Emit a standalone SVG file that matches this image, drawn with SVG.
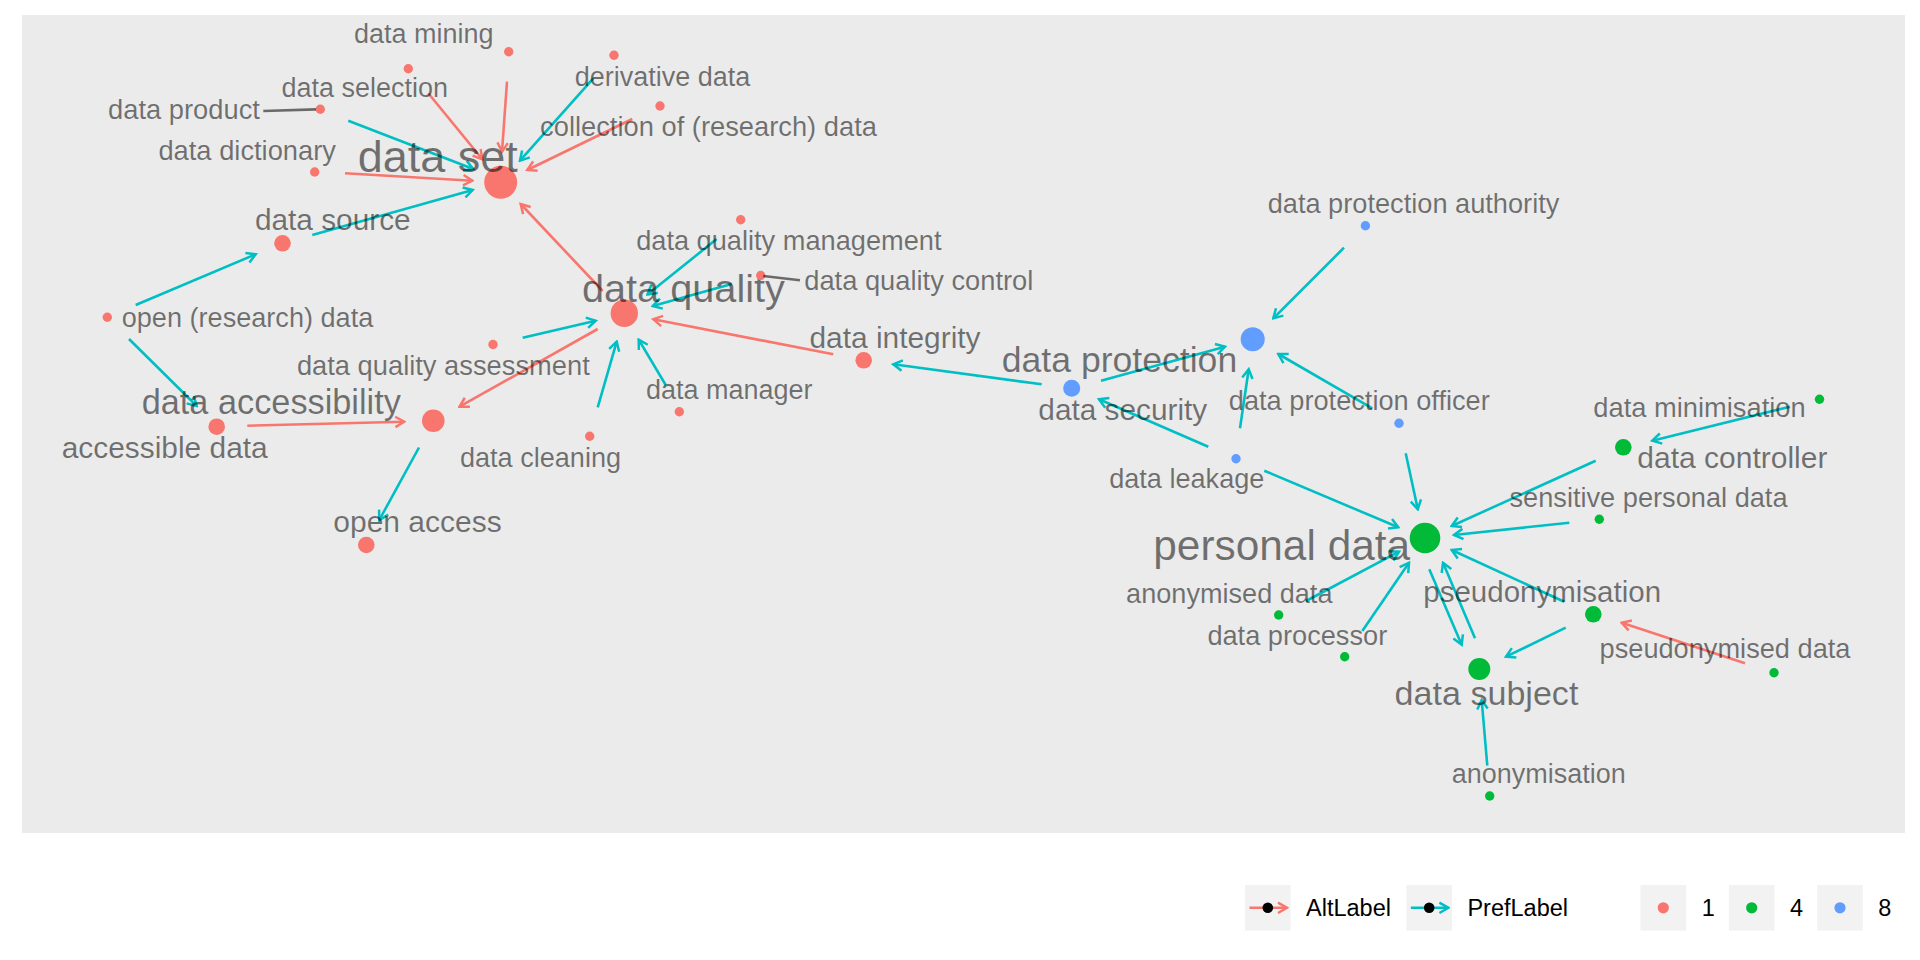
<svg xmlns="http://www.w3.org/2000/svg" width="1920" height="960" viewBox="0 0 1920 960">
<defs>
<marker id="aR" markerUnits="userSpaceOnUse" orient="auto" viewBox="-12 -8 14 16" markerWidth="14" markerHeight="16" refX="0" refY="0"><path d="M-9,-5.2 L0,0 L-9,5.2" fill="none" stroke="#F8766D" stroke-width="2.5"/></marker>
<marker id="aT" markerUnits="userSpaceOnUse" orient="auto" viewBox="-12 -8 14 16" markerWidth="14" markerHeight="16" refX="0" refY="0"><path d="M-9,-5.2 L0,0 L-9,5.2" fill="none" stroke="#00BFC4" stroke-width="2.5"/></marker>
</defs>
<style>
.lbl{font-family:"Liberation Sans",Arial,Helvetica,sans-serif;fill:#000;fill-opacity:0.53;text-anchor:middle}
.alt{stroke:#F8766D;stroke-width:2.6;fill:none;marker-end:url(#aR)}
.pref{stroke:#00BFC4;stroke-width:2.6;fill:none;marker-end:url(#aT)}
.seg{stroke:#000;stroke-opacity:0.55;stroke-width:2.6;fill:none}
.c1{fill:#F8766D}.c4{fill:#00BA38}.c8{fill:#619CFF}
.key{fill:#F2F2F2}
.lg{font-family:"Liberation Sans",Arial,Helvetica,sans-serif;font-size:23.5px;fill:#000}
</style>
<rect x="0" y="0" width="1920" height="960" fill="#FFFFFF"/>
<rect x="22" y="15" width="1883" height="818" fill="#EBEBEB"/>
<g id="edges">
<line class="alt" x1="507" y1="81.7" x2="502" y2="151.7"/>
<line class="alt" x1="428.3" y1="93.3" x2="482.3" y2="159.3"/>
<line class="alt" x1="632.3" y1="119" x2="527.3" y2="170"/>
<line class="alt" x1="345" y1="173.3" x2="472.3" y2="180.7"/>
<line class="alt" x1="602.7" y1="291" x2="520.7" y2="204"/>
<line class="alt" x1="833.3" y1="354.3" x2="653.3" y2="319.3"/>
<line class="alt" x1="597.7" y1="329" x2="459.5" y2="406.7"/>
<line class="alt" x1="247.3" y1="425.7" x2="404.3" y2="421.7"/>
<line class="alt" x1="1745" y1="663.3" x2="1621.7" y2="622.7"/>
<line class="pref" x1="348.3" y1="120.7" x2="473.3" y2="169"/>
<line class="pref" x1="593.3" y1="78.3" x2="520" y2="160.7"/>
<line class="pref" x1="312.3" y1="235" x2="472.7" y2="190"/>
<line class="pref" x1="135.7" y1="305" x2="255.7" y2="254.3"/>
<line class="pref" x1="129" y1="339" x2="196.7" y2="406"/>
<line class="pref" x1="419" y1="447.5" x2="379.3" y2="520"/>
<line class="pref" x1="716.7" y1="239" x2="647.5" y2="294.5"/>
<line class="pref" x1="731.7" y1="284" x2="652.7" y2="306"/>
<line class="pref" x1="522.7" y1="337.7" x2="595.7" y2="320.7"/>
<line class="pref" x1="597.7" y1="407.3" x2="616.7" y2="341.7"/>
<line class="pref" x1="665.7" y1="385" x2="638.7" y2="339.7"/>
<line class="pref" x1="1041.7" y1="384.3" x2="893.3" y2="364.3"/>
<line class="pref" x1="1101" y1="380.7" x2="1225" y2="346.7"/>
<line class="pref" x1="1240" y1="428.3" x2="1248.7" y2="369.3"/>
<line class="pref" x1="1208.3" y1="446.7" x2="1099" y2="399.3"/>
<line class="pref" x1="1372.3" y1="408.3" x2="1278.3" y2="354"/>
<line class="pref" x1="1344" y1="247.7" x2="1273.3" y2="318.3"/>
<line class="pref" x1="1264.3" y1="470.7" x2="1398.3" y2="527.3"/>
<line class="pref" x1="1405.7" y1="453.3" x2="1417.8" y2="509.3"/>
<line class="pref" x1="1306" y1="601" x2="1399" y2="551.7"/>
<line class="pref" x1="1362.3" y1="631" x2="1409" y2="562.7"/>
<line class="pref" x1="1429.3" y1="569.3" x2="1461.7" y2="644.7"/>
<line class="pref" x1="1475" y1="638.3" x2="1443" y2="562.7"/>
<line class="pref" x1="1595.7" y1="460.7" x2="1451.7" y2="526"/>
<line class="pref" x1="1569.3" y1="522.7" x2="1454" y2="535"/>
<line class="pref" x1="1564.3" y1="601.7" x2="1451.7" y2="550"/>
<line class="pref" x1="1565.7" y1="627.7" x2="1506" y2="656.7"/>
<line class="pref" x1="1487.3" y1="765.7" x2="1481.7" y2="700"/>
<line class="pref" x1="1790" y1="406.7" x2="1652.3" y2="440.7"/>
</g>
<g id="n-data-mining"><circle class="c1" cx="508.7" cy="51.7" r="4.7"/><text class="lbl" x="423.7" y="43.3" font-size="27">data mining</text></g>
<g id="n-data-selection"><circle class="c1" cx="408.3" cy="68.7" r="4.7"/><text class="lbl" x="364.7" y="97" font-size="27">data selection</text></g>
<g id="n-data-product"><circle class="c1" cx="320.3" cy="109.3" r="4.7"/><line class="seg" x1="263.3" y1="111" x2="316" y2="109.4"/><text class="lbl" x="184" y="119" font-size="27.3">data product</text></g>
<g id="n-derivative-data"><circle class="c1" cx="614" cy="55.3" r="4.7"/><text class="lbl" x="662.5" y="86" font-size="27">derivative data</text></g>
<g id="n-collection"><circle class="c1" cx="660" cy="106" r="4.7"/><text class="lbl" x="708.5" y="135.5" font-size="27.3">collection of (research) data</text></g>
<g id="n-data-dictionary"><circle class="c1" cx="314.7" cy="172" r="4.7"/><text class="lbl" x="247.2" y="160" font-size="27.3">data dictionary</text></g>
<g id="n-data-set"><circle class="c1" cx="500.7" cy="182.3" r="16.5"/><text class="lbl" x="437.8" y="171.7" font-size="45">data set</text></g>
<g id="n-data-source"><circle class="c1" cx="282.5" cy="243.3" r="8.3"/><text class="lbl" x="332.8" y="230" font-size="29.8">data source</text></g>
<g id="n-open-research-data"><circle class="c1" cx="107.3" cy="317.3" r="4.7"/><text class="lbl" x="247.5" y="326.7" font-size="27.1">open (research) data</text></g>
<g id="n-data-quality"><circle class="c1" cx="624.3" cy="313.3" r="13.7"/><text class="lbl" x="683.4" y="301.7" font-size="39.7">data quality</text></g>
<g id="n-data-quality-management"><circle class="c1" cx="740.7" cy="219.7" r="4.7"/><text class="lbl" x="788.8" y="250" font-size="27.2">data quality management</text></g>
<g id="n-data-quality-control"><circle class="c1" cx="760.7" cy="275.5" r="4.7"/><line class="seg" x1="763.3" y1="276" x2="800" y2="280.3"/><text class="lbl" x="918.8" y="290" font-size="27.3">data quality control</text></g>
<g id="n-data-quality-assessment"><circle class="c1" cx="493" cy="344.5" r="4.7"/><text class="lbl" x="443.3" y="375" font-size="27.3">data quality assessment</text></g>
<g id="n-data-integrity"><circle class="c1" cx="863.7" cy="360.3" r="8.3"/><text class="lbl" x="895" y="348.3" font-size="29.9">data integrity</text></g>
<g id="n-data-manager"><circle class="c1" cx="679.3" cy="411.7" r="4.7"/><text class="lbl" x="729.3" y="399" font-size="27">data manager</text></g>
<g id="n-data-cleaning"><circle class="c1" cx="589.7" cy="436.3" r="4.7"/><text class="lbl" x="540.5" y="466.7" font-size="27.1">data cleaning</text></g>
<g id="n-data-accessibility"><circle class="c1" cx="433.3" cy="420.7" r="11.3"/><text class="lbl" x="271.3" y="414.3" font-size="34.3">data accessibility</text></g>
<g id="n-accessible-data"><circle class="c1" cx="216.7" cy="426.7" r="8.3"/><text class="lbl" x="164.7" y="458.3" font-size="29.9">accessible data</text></g>
<g id="n-open-access"><circle class="c1" cx="366.3" cy="545" r="8.3"/><text class="lbl" x="417.5" y="531.7" font-size="30">open access</text></g>
<g id="n-data-protection"><circle class="c8" cx="1252.7" cy="339.3" r="12"/><text class="lbl" x="1119.5" y="371.7" font-size="35.6">data protection</text></g>
<g id="n-data-protection-authority"><circle class="c8" cx="1365.4" cy="225.7" r="4.7"/><text class="lbl" x="1413.5" y="213.3" font-size="27.2">data protection authority</text></g>
<g id="n-data-security"><circle class="c8" cx="1071.7" cy="388.3" r="8.5"/><text class="lbl" x="1122.8" y="420" font-size="29.8">data security</text></g>
<g id="n-data-leakage"><circle class="c8" cx="1236" cy="458.7" r="4.7"/><text class="lbl" x="1186.8" y="488.3" font-size="27.1">data leakage</text></g>
<g id="n-data-protection-officer"><circle class="c8" cx="1399" cy="423.3" r="4.7"/><text class="lbl" x="1359.3" y="410" font-size="27.2">data protection officer</text></g>
<g id="n-personal-data"><circle class="c4" cx="1425" cy="538" r="15.3"/><text class="lbl" x="1281.7" y="560" font-size="42.4">personal data</text></g>
<g id="n-data-minimisation"><circle class="c4" cx="1819.5" cy="399.3" r="4.7"/><text class="lbl" x="1699.5" y="416.7" font-size="27.3">data minimisation</text></g>
<g id="n-data-controller"><circle class="c4" cx="1623.3" cy="447.3" r="8.3"/><text class="lbl" x="1732.4" y="468.3" font-size="30">data controller</text></g>
<g id="n-sensitive-personal-data"><circle class="c4" cx="1599.3" cy="519.3" r="4.7"/><text class="lbl" x="1648.5" y="506.7" font-size="27.2">sensitive personal data</text></g>
<g id="n-anonymised-data"><circle class="c4" cx="1278.7" cy="615" r="4.7"/><text class="lbl" x="1229.3" y="602.7" font-size="27.1">anonymised data</text></g>
<g id="n-data-processor"><circle class="c4" cx="1344.7" cy="656.7" r="4.7"/><text class="lbl" x="1297.3" y="645" font-size="27.2">data processor</text></g>
<g id="n-pseudonymisation"><circle class="c4" cx="1593.3" cy="614.3" r="8.3"/><text class="lbl" x="1542.2" y="601.7" font-size="29.5">pseudonymisation</text></g>
<g id="n-pseudonymised-data"><circle class="c4" cx="1774" cy="672.7" r="4.7"/><text class="lbl" x="1725" y="658.3" font-size="27.2">pseudonymised data</text></g>
<g id="n-data-subject"><circle class="c4" cx="1479.3" cy="669" r="11"/><text class="lbl" x="1486.5" y="705" font-size="34.1">data subject</text></g>
<g id="n-anonymisation"><circle class="c4" cx="1489.7" cy="796" r="4.7"/><text class="lbl" x="1538.8" y="783.3" font-size="27">anonymisation</text></g>
<g id="legend">
<rect class="key" x="1245" y="885" width="45.6" height="45.6"/>
<line x1="1249.5" y1="907.8" x2="1287" y2="907.8" stroke="#F8766D" stroke-width="2.6" marker-end="url(#aR)"/>
<circle cx="1267.8" cy="907.8" r="5.3" fill="#000"/>
<text class="lg" x="1306" y="916.4">AltLabel</text>
<rect class="key" x="1406.4" y="885" width="45.6" height="45.6"/>
<line x1="1410.9" y1="907.8" x2="1448.4" y2="907.8" stroke="#00BFC4" stroke-width="2.6" marker-end="url(#aT)"/>
<circle cx="1429.2" cy="907.8" r="5.3" fill="#000"/>
<text class="lg" x="1467.4" y="916.4">PrefLabel</text>
<rect class="key" x="1640.5" y="885" width="45.6" height="45.6"/>
<circle class="c1" cx="1663.3" cy="907.8" r="5.6"/>
<text class="lg" x="1701.8" y="916.4">1</text>
<rect class="key" x="1728.9" y="885" width="45.6" height="45.6"/>
<circle class="c4" cx="1751.7" cy="907.8" r="5.6"/>
<text class="lg" x="1790" y="916.4">4</text>
<rect class="key" x="1817.2" y="885" width="45.6" height="45.6"/>
<circle class="c8" cx="1840" cy="907.8" r="5.6"/>
<text class="lg" x="1878.3" y="916.4">8</text>
</g>
</svg>
